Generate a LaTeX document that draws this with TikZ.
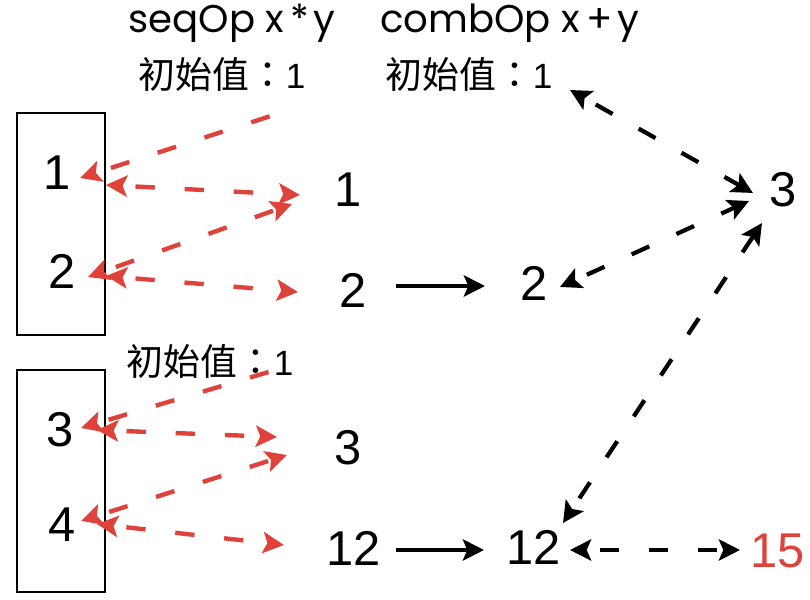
\documentclass[tikz,border=0pt]{standalone}
\usepackage{fontspec}
\setmainfont{Liberation Sans}
\newfontfamily\cjk{Noto Sans CJK TC}
\newfontfamily\opfont{Poppins}
\usetikzlibrary{arrows.meta}
\definecolor{sparkred}{RGB}{222,66,58}
\newcommand{\initval}{{\cjk 初始值：}{\fontsize{20}{22}\selectfont 1}}

\begin{document}
\begin{tikzpicture}[x=0.2mm, y=-0.2mm,
    >={Stealth[length=12pt,width=12pt,inset=2.5pt]},
    num/.style={font=\fontsize{27.8}{30}\selectfont, inner sep=0pt},
    optext/.style={font=\opfont\fontsize{22}{26}\selectfont, inner sep=0pt, anchor=base west},
    inittext/.style={font=\fontsize{21}{24}\selectfont, inner sep=0pt, anchor=west},
    part/.style={line width=1.5pt},
    seqflow/.style={sparkred, line width=2.5pt, dash pattern=on 0pt off 8pt on 11pt off 9pt},
    combflow/.style={black, line width=2.4pt, dash pattern=on 0pt off 8pt on 11pt off 9pt},
    result/.style={black, line width=2.4pt}]
    \useasboundingbox (0,0) rectangle (810,600);

    % headings
    \node[optext] (seq) at (128,33) {seqOp\hspace{6pt}x\hspace{3.5pt}*\hspace{2.5pt}y};
    \node[optext] (comb) at (380,33) {combOp\hspace{6pt}x\hspace{3.5pt}+\hspace{2.5pt}y};
    \node[inittext] (init1) at (138,74) {\initval};
    \node[inittext] (init2) at (385,74) {\initval};
    \node[inittext] (init3) at (126,361) {\initval};

    % partitions
    \draw[part] (17,113) rectangle (105,335);
    \draw[part] (17,370) rectangle (105,592);
    \node[num] (b1) at (57,173) {1};
    \node[num] (b2) at (62,271) {2};
    \node[num] (b3) at (60,430) {3};
    \node[num] (b4) at (62,525) {4};

    % seqOp results
    \node[num] (m1) at (348,190) {1};
    \node[num] (m2) at (353,290) {2};
    \node[num] (m3) at (348,448) {3};
    \node[num] (m4) at (354,548) {12};
    \node[num] (c2) at (534,283) {2};
    \node[num] (c4) at (534,547) {12};

    % combOp results
    \node[num] (r3) at (783,190) {3};
    \node[num, text=sparkred] (tot) at (778,551) {15};

    \coordinate (s0) at (283,112);
    \coordinate (b1-in) at (80,178);
    \coordinate (b1-out) at (106,185);
    \coordinate (m1-in) at (300,195);
    \coordinate (m1-back) at (292,204);
    \coordinate (b2-in) at (88,277);
    \coordinate (b2-out) at (106,276);
    \coordinate (m2-in) at (298,292);
    \coordinate (s1) at (282,368);
    \coordinate (b3-in) at (81,428);
    \coordinate (b3-out) at (97,430);
    \coordinate (m3-in) at (277,437);
    \coordinate (m3-back) at (287,455);
    \coordinate (b4-in) at (81,521);
    \coordinate (b4-out) at (97,524);
    \coordinate (m4-in) at (284,545);

    \coordinate (m2-out) at (396,286);
    \coordinate (c2-in) at (485,286);
    \coordinate (m4-out) at (396,550);
    \coordinate (c4-in) at (484,550);
    \coordinate (c0) at (570,90);
    \coordinate (r3-a) at (753,193);
    \coordinate (c2-back) at (560,287);
    \coordinate (r3-b) at (749,201);
    \coordinate (r3-c) at (762,223);
    \coordinate (c4-up) at (563,523);
    \coordinate (c4-out) at (570,550);
    \coordinate (tot-in) at (740,550);

    \draw[seqflow, ->] (s0) -- (b1-in);
    \draw[seqflow, <->] (b1-out) -- (m1-in);
    \draw[seqflow, <->] (b2-in) -- (m1-back);
    \draw[seqflow, <->] (b2-out) -- (m2-in);
    \draw[seqflow, ->] (s1) -- (b3-in);
    \draw[seqflow, <->] (b3-out) -- (m3-in);
    \draw[seqflow, <->] (b4-in) -- (m3-back);
    \draw[seqflow, <->] (b4-out) -- (m4-in);

    \draw[result, ->] (m2-out) -- (c2-in);
    \draw[result, ->] (m4-out) -- (c4-in);

    \draw[combflow, <->] (c0) -- (r3-a);
    \draw[combflow, <->] (c2-back) -- (r3-b);
    \draw[combflow, <->] (c4-up) -- (r3-c);
    \draw[combflow, <->] (c4-out) -- (tot-in);
\end{tikzpicture}
\end{document}
